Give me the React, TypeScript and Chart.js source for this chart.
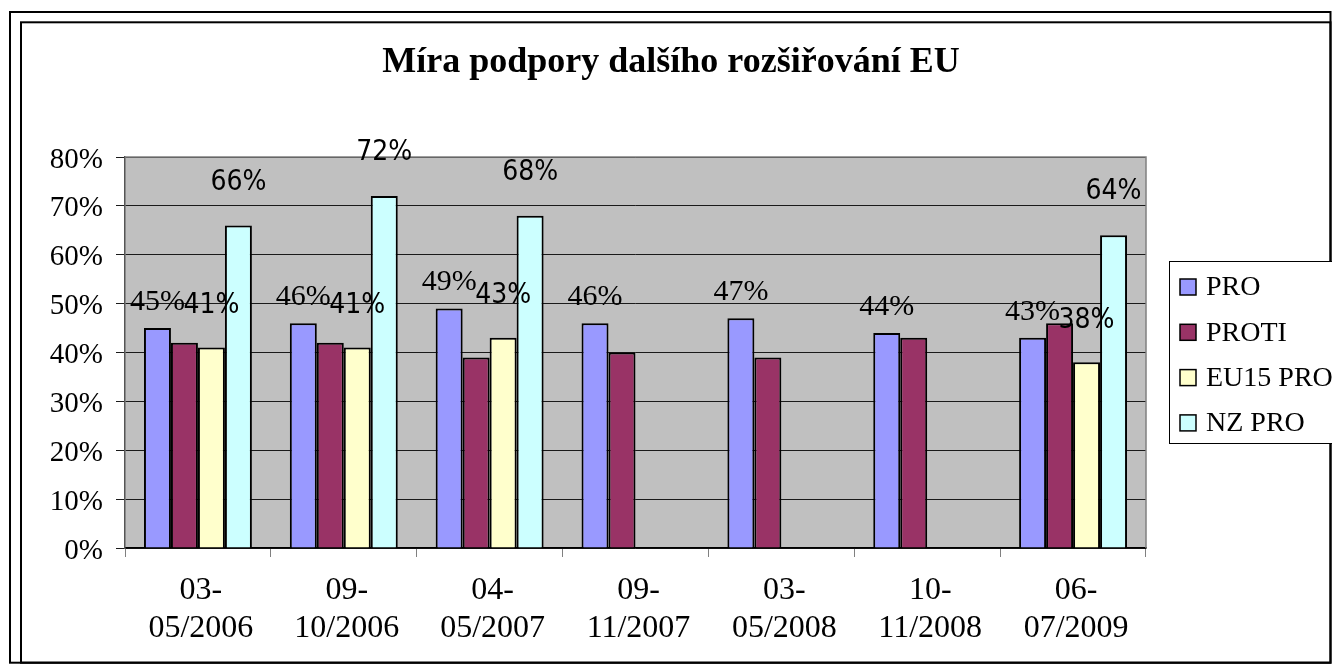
import React, { useEffect, useRef } from 'react';
import { Chart, registerables } from 'chart.js';

Chart.register(...registerables);

const titleText = 'Míra podpory dalšího rozšiřování EU';
const categories = [
  ['03-', '05/2006'],
  ['09-', '10/2006'],
  ['04-', '05/2007'],
  ['09-', '11/2007'],
  ['03-', '05/2008'],
  ['10-', '11/2008'],
  ['06-', '07/2009'],
];
const seriesNames = ['PRO', 'PROTI', 'EU15 PRO', 'NZ PRO'];
const proValues = [45, 46, 49, 46, 47, 44, 43];
const protiValues = [42, 42, 39, 40, 39, 43, 46];
const eu15Values = [41, 41, 43, null, null, null, 38];
const nzValues = [66, 72, 68, null, null, null, 64];
const yMin = 0;
const yMax = 80;
const yStep = 10;

const seriesColors = ['#9999FF', '#993366', '#FFFFCC', '#CCFFFF'];
const SERIF = '"Liberation Serif", "Times New Roman", serif';
const SANS_NARROW = '"Liberation Sans Narrow", "DejaVu Sans Condensed", "Liberation Sans", sans-serif';

// value label style per dataset index (null = no labels)
const labelStyles: Array<null | { font: string; dy: number }> = [
  { font: `30px ${SERIF}`, dy: -26 },
  null,
  { font: `28px ${SANS_NARROW}`, dy: -42 },
  { font: `28px ${SANS_NARROW}`, dy: -43 },
];

const framePlugin = {
  id: 'frame',
  beforeDraw(chart: any) {
    const { ctx, chartArea } = chart;
    ctx.save();
    ctx.fillStyle = '#ffffff';
    ctx.fillRect(0, 0, chart.width, chart.height);
    ctx.strokeStyle = '#000';
    ctx.lineWidth = 2;
    ctx.strokeRect(10, 12, 1320.5, 650.7);
    ctx.strokeRect(21, 22.3, 1309.5, 640.4);
    ctx.fillStyle = '#C0C0C0';
    ctx.fillRect(chartArea.left, chartArea.top, chartArea.right - chartArea.left, chartArea.bottom - chartArea.top);
    ctx.restore();
  },
};

const plotBorderPlugin = {
  id: 'plotBorder',
  afterDatasetsDraw(chart: any) {
    const { ctx, chartArea } = chart;
    ctx.save();
    ctx.strokeStyle = '#808080';
    ctx.lineWidth = 1.5;
    ctx.beginPath();
    ctx.moveTo(chartArea.left, chartArea.top);
    ctx.lineTo(chartArea.right, chartArea.top);
    ctx.lineTo(chartArea.right, chartArea.bottom);
    ctx.stroke();
    ctx.restore();
  },
};

const valueLabelPlugin = {
  id: 'valueLabels',
  afterDatasetsDraw(chart: any) {
    const { ctx } = chart;
    ctx.save();
    ctx.fillStyle = '#000';
    ctx.textAlign = 'center';
    ctx.textBaseline = 'middle';
    chart.data.datasets.forEach((ds: any, i: number) => {
      const style = labelStyles[i];
      if (!style) return;
      const meta = chart.getDatasetMeta(i);
      ctx.font = style.font;
      meta.data.forEach((el: any, j: number) => {
        const v = ds.data[j];
        if (v === null || v === undefined) return;
        ctx.fillText(`${v}%`, el.x, el.y + style.dy);
      });
    });
    ctx.restore();
  },
};

const legendPlugin = {
  id: 'boxLegend',
  afterDraw(chart: any) {
    const { ctx } = chart;
    const boxLeft = 1169.5;
    const boxTop = 261.5;
    const boxBottom = 443.5;
    ctx.save();
    ctx.fillStyle = '#fff';
    ctx.fillRect(boxLeft, boxTop, 200, boxBottom - boxTop);
    ctx.strokeStyle = '#000';
    ctx.lineWidth = 1;
    ctx.strokeRect(boxLeft, boxTop, 200, boxBottom - boxTop);
    ctx.font = `28px ${SERIF}`;
    ctx.textAlign = 'left';
    ctx.textBaseline = 'middle';
    chart.data.datasets.forEach((ds: any, i: number) => {
      const cy = 287 + i * 45.3;
      ctx.fillStyle = ds.backgroundColor;
      ctx.fillRect(1180, cy - 8, 16, 16);
      ctx.strokeStyle = '#000';
      ctx.lineWidth = 1.5;
      ctx.strokeRect(1180, cy - 8, 16, 16);
      ctx.fillStyle = '#000';
      ctx.fillText(ds.label, 1206, cy + 1);
    });
    ctx.restore();
  },
};

export default function App() {
  const canvasRef = useRef<HTMLCanvasElement | null>(null);

  useEffect(() => {
    const canvas = canvasRef.current;
    if (!canvas) return;
    const values = [proValues, protiValues, eu15Values, nzValues];
    const chart = new Chart(canvas, {
      type: 'bar',
      data: {
        labels: categories,
        datasets: seriesNames.map((name, i) => ({
          label: name,
          data: values[i],
          backgroundColor: seriesColors[i],
          borderColor: '#000',
          borderWidth: 2,
          categoryPercentage: 0.74,
          barPercentage: 1.0,
        })),
      },
      options: {
        responsive: false,
        animation: false,
        devicePixelRatio: 1,
        layout: { padding: { left: 10, right: 0, top: 0, bottom: 0 } },
        plugins: {
          legend: { display: false },
          tooltip: { enabled: false },
          title: {
            display: true,
            text: titleText,
            color: '#000',
            font: { family: SERIF, size: 36, weight: 'bold', lineHeight: 1.2 },
            padding: { top: 41.4, bottom: 72.4 },
          },
        },
        scales: {
          x: {
            type: 'category',
            offset: true,
            grid: {
              offset: true,
              drawOnChartArea: false,
              drawTicks: true,
              tickLength: 9,
              color: '#808080',
              lineWidth: 1,
            },
            border: { display: true, color: '#000', width: 1.5 },
            ticks: {
              color: '#000',
              font: { family: SERIF, size: 32, lineHeight: 38 / 32 },
              padding: 15,
              labelOffset: 3,
              maxRotation: 0,
              autoSkip: false,
            },
            afterFit(scale: any) {
              scale.height = 116;
            },
          },
          y: {
            type: 'linear',
            position: 'left',
            min: yMin,
            max: yMax,
            grid: {
              drawOnChartArea: true,
              drawTicks: true,
              tickLength: 9,
              color: '#1a1a1a',
              lineWidth: 1,
            },
            border: { display: true, color: '#555', width: 1.5 },
            ticks: {
              stepSize: yStep,
              color: '#000',
              font: { family: SERIF, size: 29 },
              padding: 13,
              labelOffset: 3,
              callback: (v: any) => `${v}%`,
            },
            afterFit(scale: any) {
              scale.width = 115;
            },
          },
          spacer: {
            type: 'linear',
            position: 'right',
            display: true,
            grid: { drawOnChartArea: false, drawTicks: false },
            border: { display: false },
            ticks: { display: false },
            afterFit(scale: any) {
              scale.width = 186;
            },
          },
        },
      },
      plugins: [framePlugin, plotBorderPlugin, valueLabelPlugin, legendPlugin],
    } as any);
    return () => chart.destroy();
  }, []);

  return (
    <div style={{ position: 'fixed', left: 0, top: 0, width: 1332, height: 664 }}>
      <canvas ref={canvasRef} width={1332} height={664} style={{ display: 'block', width: 1332, height: 664 }} />
    </div>
  );
}
